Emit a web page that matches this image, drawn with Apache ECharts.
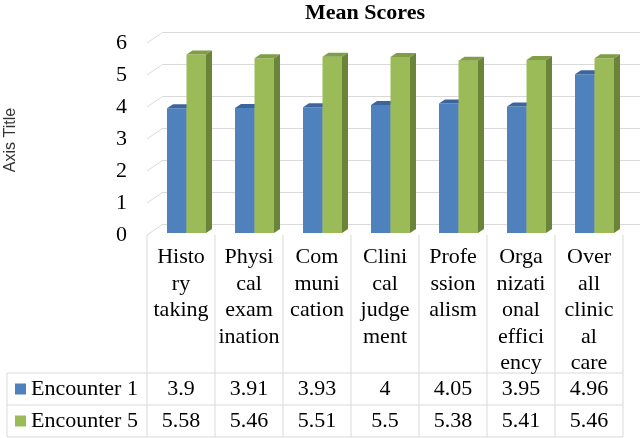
<!DOCTYPE html>
<html>
<head>
<meta charset="utf-8">
<script src="https://cdn.jsdelivr.net/npm/echarts@6/dist/echarts.min.js"></script>
<style>
  html, body { margin: 0; padding: 0; background: #fff; }
  #main { width: 640px; height: 438px; }
</style>
</head>
<body>
<div id="main"></div>
<script>
// 数据
var categoryLabels = ['Histo\nry\ntaking', 'Physi\ncal\nexam\nination', 'Com\nmuni\ncation',
  'Clini\ncal\njudge\nment', 'Profe\nssion\nalism', 'Orga\nnizati\nonal\neffici\nency', 'Over\nall\nclinic\nal\ncare'];
var encounter1 = [3.9, 3.91, 3.93, 4, 4.05, 3.95, 4.96];
var encounter5 = [5.58, 5.46, 5.51, 5.5, 5.38, 5.41, 5.46];
var yTicks = [0, 1, 2, 3, 4, 5, 6];

var serif = '"Liberation Serif", "Times New Roman", serif';
var gridColor = '#d9d9d9';

var myChart = echarts.init(document.getElementById('main'));

// 3D柱子
function makeRender(offset, width, colors) {
  var dx = 6, dy = -4;
  return function (params, api) {
    var cat = api.value(0);
    var top = api.coord([cat, api.value(1)]);
    var base = api.coord([cat, 0]);
    var x0 = top[0] + offset, x1 = x0 + width;
    var y0 = top[1], y1 = base[1];
    return {
      type: 'group',
      children: [
        { type: 'rect', shape: { x: x0, y: y0, width: width, height: y1 - y0 }, style: { fill: colors[0] } },
        { type: 'polygon', shape: { points: [[x0, y0], [x1, y0], [x1 + dx, y0 + dy], [x0 + dx, y0 + dy]] }, style: { fill: colors[1] } },
        { type: 'polygon', shape: { points: [[x1, y0], [x1 + dx, y0 + dy], [x1 + dx, y1 + dy], [x1, y1]] }, style: { fill: colors[2] } }
      ]
    };
  };
}

var tableLines = [];
for (var k = 0; k <= 7; k++) {
  tableLines.push({ type: 'line', shape: { x1: 147 + 68 * k, y1: 235, x2: 147 + 68 * k, y2: 437 }, style: { stroke: gridColor, lineWidth: 1 } });
}
[373, 405, 437].forEach(function (y) {
  tableLines.push({ type: 'line', shape: { x1: 7, y1: y, x2: 623, y2: y }, style: { stroke: gridColor, lineWidth: 1 } });
});
tableLines.push({ type: 'line', shape: { x1: 7, y1: 373, x2: 7, y2: 437 }, style: { stroke: gridColor, lineWidth: 1 } });
tableLines.push({
  type: 'text', x: 11, y: 140, rotation: Math.PI / 2,
  style: { text: 'Axis Title', font: '16px "Liberation Sans", Arial, sans-serif', fill: '#333', align: 'center', verticalAlign: 'middle' }
});

var option = {
  animation: false,
  title: {
    text: 'Mean Scores',
    left: 305, top: 2, padding: 0,
    textStyle: { fontFamily: serif, fontSize: 22, fontWeight: 'bold', color: '#000' }
  },
  legend: [
    { data: ['Encounter 1'], left: 15, top: 378, padding: 0, itemWidth: 11, itemHeight: 11, icon: 'rect',
      textStyle: { fontFamily: serif, fontSize: 22, lineHeight: 22, color: '#000' } },
    { data: ['Encounter 5'], left: 15, top: 410, padding: 0, itemWidth: 11, itemHeight: 11, icon: 'rect',
      textStyle: { fontFamily: serif, fontSize: 22, lineHeight: 22, color: '#000' } }
  ],
  grid: [
    { left: 147, right: 17, top: 41, bottom: 205 },   // 柱子
    { left: 163, right: 0, top: 32, bottom: 214 },    // 背景网格
    { left: 147, right: 17, top: 43, bottom: 203 }    // 刻度标签
  ],
  xAxis: [
    { type: 'category', gridIndex: 0, data: categoryLabels,
      axisLine: { show: false }, axisTick: { show: false },
      axisLabel: { interval: 0, margin: 11, fontFamily: serif, fontSize: 22, lineHeight: 26.5, color: '#000' } },
    { type: 'value', gridIndex: 1, min: 0, max: 1, show: false },
    { type: 'value', gridIndex: 2, min: 0, max: 1, show: false },
    { type: 'category', gridIndex: 0, position: 'bottom', data: encounter1.map(String),
      axisLine: { show: false }, axisTick: { show: false },
      axisLabel: { interval: 0, margin: 156, verticalAlign: 'middle', fontFamily: serif, fontSize: 22, color: '#000' } },
    { type: 'category', gridIndex: 0, position: 'bottom', data: encounter5.map(String),
      axisLine: { show: false }, axisTick: { show: false },
      axisLabel: { interval: 0, margin: 188, verticalAlign: 'middle', fontFamily: serif, fontSize: 22, color: '#000' } }
  ],
  yAxis: [
    { type: 'value', gridIndex: 0, min: 0, max: 6, show: false },
    { type: 'value', gridIndex: 1, min: 0, max: 6, interval: 1,
      axisLine: { show: false }, axisTick: { show: false }, axisLabel: { show: false },
      splitLine: { lineStyle: { color: gridColor, width: 1 } } },
    { type: 'value', gridIndex: 2, min: 0, max: 6, interval: 1,
      axisLine: { show: false }, axisTick: { show: false }, splitLine: { show: false },
      axisLabel: { margin: 20, fontFamily: serif, fontSize: 22, color: '#000' } }
  ],
  series: [
    { // 侧墙斜线
      type: 'custom', xAxisIndex: 1, yAxisIndex: 1, silent: true, z: 1,
      data: yTicks.map(function (v) { return [0, v]; }),
      renderItem: function (params, api) {
        var p = api.coord([0, api.value(1)]);
        return { type: 'line', shape: { x1: p[0], y1: p[1], x2: p[0] - 16, y2: p[1] + 11 }, style: { stroke: gridColor, lineWidth: 1 } };
      }
    },
    {
      name: 'Encounter 1', type: 'custom', xAxisIndex: 0, yAxisIndex: 0, z: 2,
      itemStyle: { color: '#4f81bd' },
      data: encounter1.map(function (v, i) { return [i, v]; }),
      renderItem: makeRender(-14, 19.5, ['#4f81bd', '#3b659c', '#395e8e'])
    },
    {
      name: 'Encounter 5', type: 'custom', xAxisIndex: 0, yAxisIndex: 0, z: 3,
      itemStyle: { color: '#9bbb59' },
      data: encounter5.map(function (v, i) { return [i, v]; }),
      renderItem: makeRender(5.5, 19.5, ['#9bbb59', '#7f9e45', '#6a8537'])
    }
  ],
  graphic: tableLines
};
myChart.setOption(option);
</script>
</body>
</html>
